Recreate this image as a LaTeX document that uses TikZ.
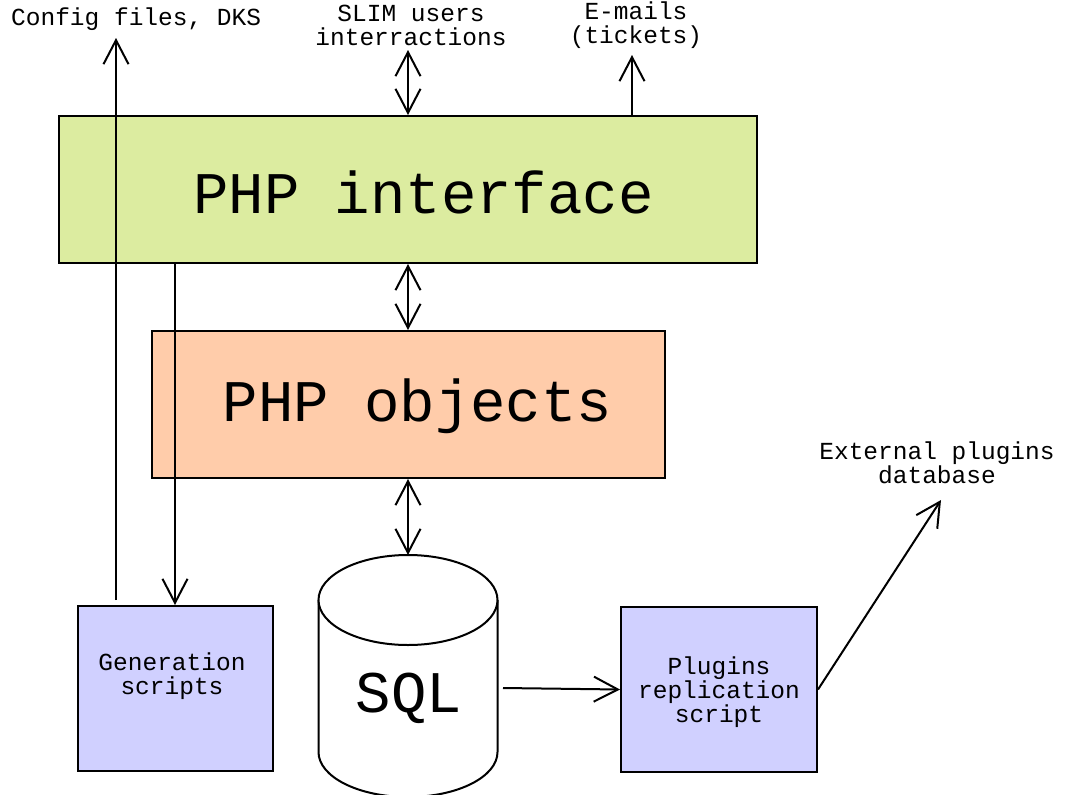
\documentclass[tikz,border=0pt]{standalone}
\usepackage{fontspec}
\setmonofont{Liberation Mono}
\usetikzlibrary{arrows.meta,calc}
\definecolor{ifgreen}{RGB}{220,236,160}
\definecolor{objpeach}{RGB}{255,204,170}
\definecolor{scrlav}{RGB}{208,208,255}
\tikzset{
  box/.style={draw=black, line width=2pt, inner sep=0pt},
  bigtxt/.style={font=\ttfamily\fontsize{59}{60}\selectfont, inner sep=0pt},
  smalltxt/.style={font=\ttfamily\fontsize{24.5}{24}\selectfont, align=center, inner sep=0pt},
  barb/.tip={Straight Barb[length=24pt,width=25pt,line width=2pt]},
  arr/.style={line width=2pt, -barb},
  darr/.style={line width=2pt, barb-barb}
}
\begin{document}
\begin{tikzpicture}[x=1pt,y=-1pt]
\useasboundingbox (0,0) rectangle (1071,795);
% boxes
\node[box, fill=ifgreen, minimum width=698pt, minimum height=147pt] (iface) at (408,189.5) {};
\node[bigtxt, anchor=base] (ifacetxt) at (423.5,213) {PHP interface};
\node[box, fill=objpeach, minimum width=513pt, minimum height=147pt] (obj) at (408.5,404.5) {};
\node[bigtxt, anchor=base] (objtxt) at (417.5,421) {PHP objects};
\node[box, fill=scrlav, minimum width=195pt, minimum height=165pt] (gen) at (175,688.5) {};
\node[smalltxt, anchor=base] (gentxt) at (172,694) {Generation\\scripts};
\node[box, fill=scrlav, minimum width=196pt, minimum height=165pt] (plug) at (719,689.5) {};
\node[smalltxt] (plugtxt) at (719,692) {Plugins\\replication\\script};
% cylinder
\draw[line width=2pt, fill=white] (318.5,600) -- (318.5,752) arc[start angle=180, end angle=360, x radius=89.5, y radius=-45] -- (497.5,600);
\draw[line width=2pt, fill=white] (408,600) ellipse [x radius=89.5, y radius=45];
\coordinate (sqltop) at (408,555);
\coordinate (sqlright) at (503,688);
\node[bigtxt, anchor=base] (sqltxt) at (409,712) {SQL};
% labels
\node[smalltxt, anchor=west] (cfglbl) at (11,19) {Config files, DKS};
\node[smalltxt] (slimlbl) at (411,25) {SLIM users\\interractions};
\node[smalltxt] (maillbl) at (636,25) {E-mails\\(tickets)};
\node[smalltxt] (extlbl) at (937,463) {External plugins\\database};
% free ends
\coordinate (cfgbot) at (116,600);
\coordinate (cfgtop) at (116,38);
\coordinate (slimtop) at (408,50);
\coordinate (mailtop) at (632,55);
\coordinate (exttip) at (941,500);
% connectors
\draw[arr] (cfgbot) -- (cfgtop);
\draw[arr] (gen.north |- iface.south) -- (gen.north);
\draw[darr] (iface.north) -- (slimtop);
\draw[arr] (mailtop |- iface.north) -- (mailtop);
\draw[darr] (iface.south) -- (iface.south |- obj.north);
\draw[darr] (iface.south |- obj.south) -- (sqltop);
\draw[arr] (sqlright) -- (plug.west);
\draw[arr] (plug.east) -- (exttip);
\end{tikzpicture}
\end{document}
